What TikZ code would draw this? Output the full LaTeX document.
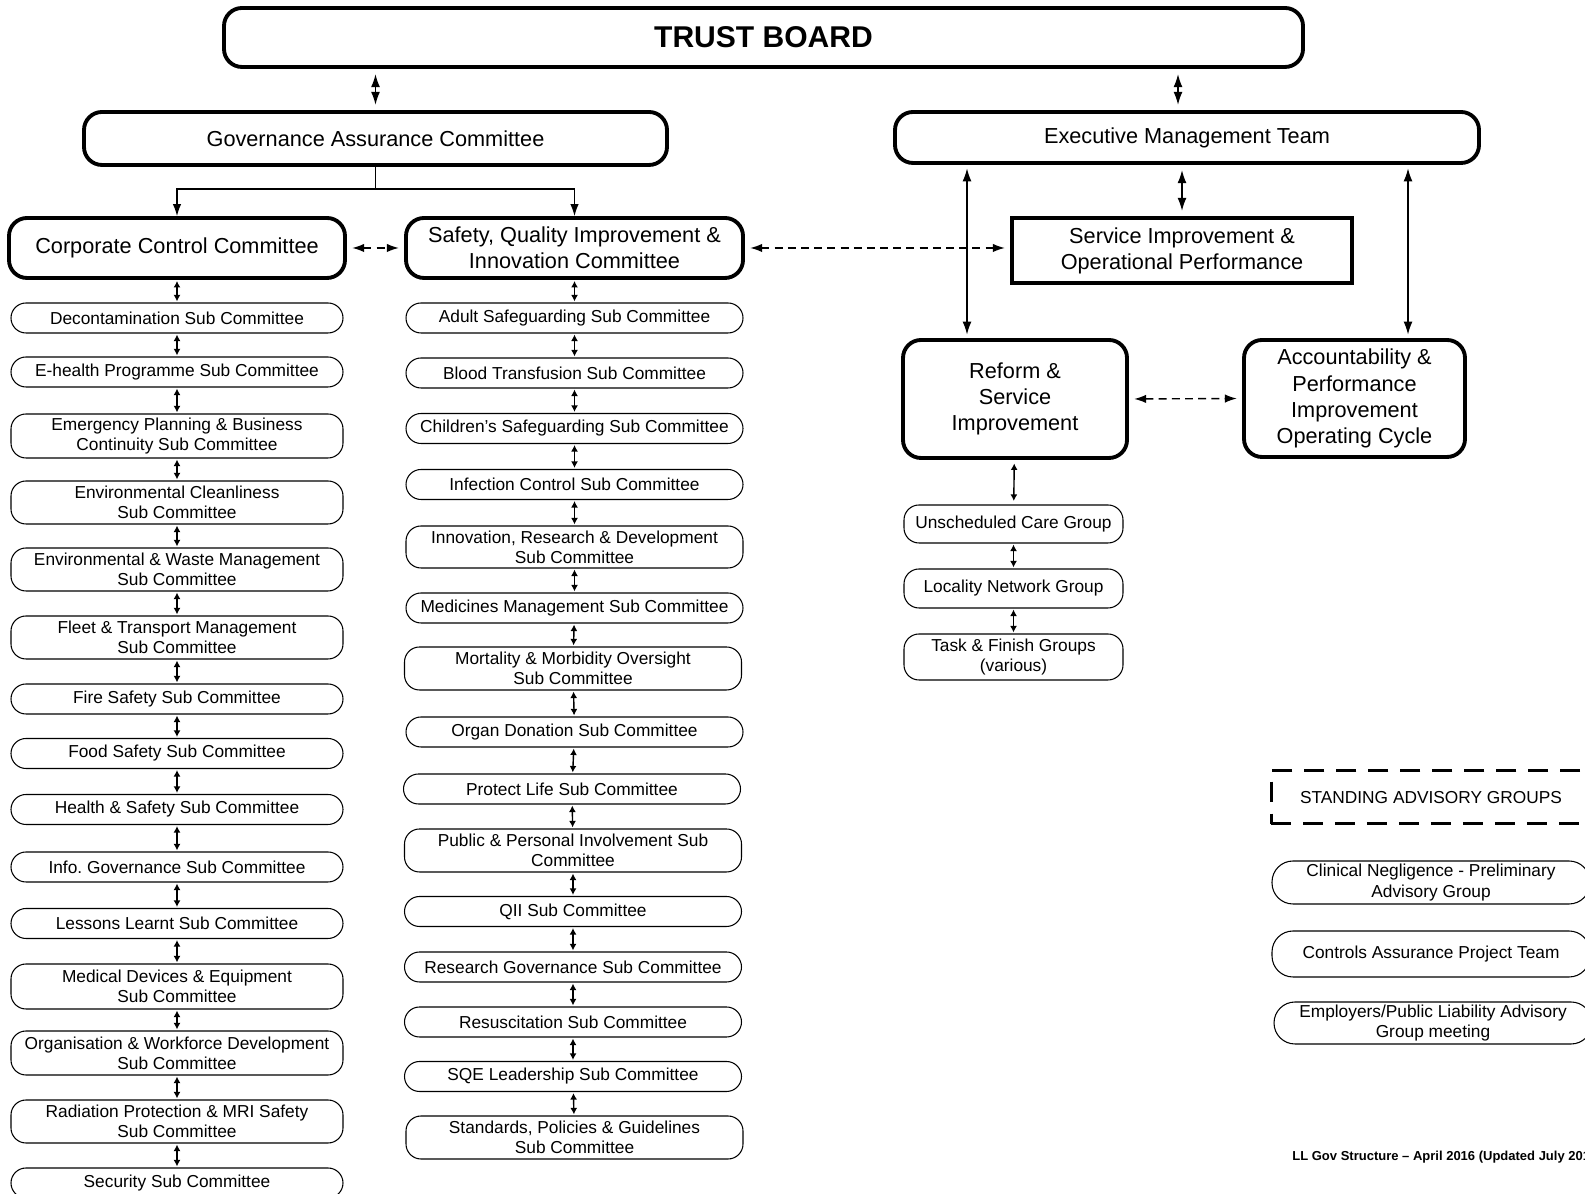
\documentclass[tikz,border=0pt]{standalone}
\usepackage{fontspec}
\setmainfont{Liberation Sans}
\usepackage{tikz}
\usetikzlibrary{arrows.meta, positioning}

\begin{document}
\begin{tikzpicture}[
    board/.style={draw, rounded corners=0.36cm, line width=2.2pt, align=center, inner sep=2pt, font=\fontsize{12.35}{14.9}\selectfont},
    opbox/.style={draw, line width=2.2pt, align=center, inner sep=2pt, font=\fontsize{12.35}{14.9}\selectfont},
    subcom/.style={draw, rounded corners=0.3cm, line width=0.6pt, minimum width=6.64cm, minimum height=0.6cm, inner sep=1pt, align=center, font=\fontsize{9.85}{11.5}\selectfont},
    group/.style={draw, rounded corners=0.3cm, line width=0.6pt, minimum width=4.38cm, inner sep=1pt, align=center, font=\fontsize{9.85}{11.5}\selectfont},
    advisory/.style={draw, rounded corners=0.42cm, line width=0.6pt, minimum width=6.36cm, inner sep=1pt, align=center, font=\fontsize{9.85}{11.6}\selectfont},
    arrow/.style={{Latex[length=2.6mm,width=1.8mm]}-{Latex[length=2.6mm,width=1.8mm]}, line width=0.7pt, shorten <=3pt, shorten >=3pt},
    link/.style={{Latex[length=1.3mm,width=1.4mm]}-{Latex[length=1.3mm,width=1.4mm]}, line width=0.8pt, shorten <=0.6pt, shorten >=0.6pt},
    branch/.style={-{Latex[length=2.4mm,width=1.7mm]}, line width=0.7pt},
    dasharrow/.style={{Latex[length=2.4mm,width=1.7mm]}-{Latex[length=2.4mm,width=1.7mm]}, dash pattern=on 4.5pt off 3pt, line width=0.8pt, shorten <=3pt, shorten >=3pt}
]
    \useasboundingbox (0,0) rectangle (31.7,23.88);

    % Board and top committees
    \node[board, minimum width=21.58cm, minimum height=1.18cm, font=\fontsize{17.1}{20}\selectfont\bfseries] (trust) at (15.27,23.13) {TRUST BOARD};
    \node[board, minimum width=11.66cm, minimum height=1.06cm] (gac) at (7.51,21.11) {Governance Assurance Committee};
    \node[board, minimum width=11.68cm, minimum height=1.02cm] (emt) at (23.74,21.13) {Executive Management Team};

    \node[board, minimum width=6.72cm, minimum height=1.2cm] (ccc) at (3.54,18.92) {Corporate Control Committee};
    \node[board, minimum width=6.74cm, minimum height=1.2cm] (sqii) at (11.49,18.92) {Safety, Quality Improvement \&\\Innovation Committee};
    \node[opbox, minimum width=6.8cm, minimum height=1.3cm] (siop) at (23.64,18.87) {Service Improvement \&\\Operational Performance};

    \node[board, minimum width=4.48cm, minimum height=2.36cm] (reform) at (20.30,15.90) {Reform \&\\Service\\Improvement};
    \node[board, minimum width=4.42cm, minimum height=2.34cm] (acc) at (27.09,15.91) {Accountability \&\\Performance\\Improvement\\Operating Cycle};

    % Groups under Reform
    \node[group, minimum height=0.76cm] (ucg) at (20.27,13.40) {Unscheduled Care Group};
    \node[group, minimum height=0.78cm] (lng) at (20.27,12.11) {Locality Network Group};
    \node[group, minimum height=0.92cm] (tfg) at (20.27,10.74) {Task \& Finish Groups\\(various)};

    % Corporate Control sub committees
    \node[subcom] (lc1) at (3.54,17.52) {Decontamination Sub Committee};
    \node[subcom] (lc2) at (3.54,16.44) {E-health Programme Sub Committee};
    \node[subcom, minimum height=0.88cm] (lc3) at (3.54,15.16) {Emergency Planning \& Business\\Continuity Sub Committee};
    \node[subcom, minimum height=0.86cm] (lc4) at (3.54,13.83) {Environmental Cleanliness\\Sub Committee};
    \node[subcom, minimum height=0.86cm] (lc5) at (3.54,12.49) {Environmental \& Waste Management\\Sub Committee};
    \node[subcom, minimum height=0.86cm] (lc6) at (3.54,11.13) {Fleet \& Transport Management\\Sub Committee};
    \node[subcom] (lc7) at (3.54,9.90) {Fire Safety Sub Committee};
    \node[subcom] (lc8) at (3.54,8.81) {Food Safety Sub Committee};
    \node[subcom] (lc9) at (3.54,7.69) {Health \& Safety Sub Committee};
    \node[subcom] (lc10) at (3.54,6.54) {Info.\ Governance Sub Committee};
    \node[subcom] (lc11) at (3.54,5.41) {Lessons Learnt Sub Committee};
    \node[subcom, minimum height=0.9cm] (lc12) at (3.54,4.15) {Medical Devices \& Equipment\\Sub Committee};
    \node[subcom, minimum height=0.88cm] (lc13) at (3.54,2.82) {Organisation \& Workforce Development\\Sub Committee};
    \node[subcom, minimum height=0.86cm] (lc14) at (3.54,1.45) {Radiation Protection \& MRI Safety\\Sub Committee};
    \node[subcom] (lc15) at (3.54,0.22) {Security Sub Committee};

    % Safety, Quality Improvement sub committees
    \node[subcom, minimum width=6.74cm] (mc1) at (11.49,17.52) {Adult Safeguarding Sub Committee};
    \node[subcom, minimum width=6.74cm] (mc2) at (11.49,16.42) {Blood Transfusion Sub Committee};
    \node[subcom, minimum width=6.74cm] (mc3) at (11.49,15.31) {Children’s Safeguarding Sub Committee};
    \node[subcom, minimum width=6.74cm] (mc4) at (11.49,14.19) {Infection Control Sub Committee};
    \node[subcom, minimum width=6.74cm, minimum height=0.84cm] (mc5) at (11.49,12.94) {Innovation, Research \& Development\\Sub Committee};
    \node[subcom, minimum width=6.74cm] (mc6) at (11.49,11.72) {Medicines Management Sub Committee};
    \node[subcom, minimum width=6.74cm, minimum height=0.86cm] (mc7) at (11.46,10.51) {Mortality \& Morbidity Oversight\\Sub Committee};
    \node[subcom, minimum width=6.74cm] (mc8) at (11.49,9.24) {Organ Donation Sub Committee};
    \node[subcom, minimum width=6.74cm] (mc9) at (11.44,8.10) {Protect Life Sub Committee};
    \node[subcom, minimum width=6.74cm, minimum height=0.86cm] (mc10) at (11.46,6.87) {Public \& Personal Involvement Sub\\Committee};
    \node[subcom, minimum width=6.74cm] (mc11) at (11.46,5.65) {QII Sub Committee};
    \node[subcom, minimum width=6.74cm] (mc12) at (11.46,4.54) {Research Governance Sub Committee};
    \node[subcom, minimum width=6.74cm] (mc13) at (11.46,3.44) {Resuscitation Sub Committee};
    \node[subcom, minimum width=6.74cm] (mc14) at (11.46,2.35) {SQE Leadership Sub Committee};
    \node[subcom, minimum width=6.74cm, minimum height=0.86cm] (mc15) at (11.49,1.13) {Standards, Policies \& Guidelines\\Sub Committee};

    % Standing advisory groups
    \node[draw, line width=1.7pt, dash pattern=on 11.4pt off 6.8pt, minimum width=6.4cm, minimum height=1.06cm, font=\fontsize{9.85}{11.5}\selectfont] (sag) at (28.62,7.93) {STANDING ADVISORY GROUPS};
    \node[advisory, minimum height=0.86cm] (cng) at (28.62,6.23) {Clinical Negligence - Preliminary\\Advisory Group};
    \node[advisory, minimum height=0.92cm] (cap) at (28.62,4.80) {Controls Assurance Project Team};
    \node[advisory, minimum height=0.84cm] (epl) at (28.66,3.42) {Employers/Public Liability Advisory\\Group meeting};

    \node[anchor=west, inner sep=0pt, font=\fontsize{7.4}{9}\selectfont\bfseries] (note) at (25.84,0.73) {LL Gov Structure – April 2016 (Updated July 201};

    % Tap points
    \coordinate (split) at (7.51,20.10);
    \coordinate (etap) at (23.56,0);
    \coordinate (rtap) at (19.34,0);
    \coordinate (atap) at (28.16,0);

    % Connections
    \draw[arrow] (trust.south -| gac.north) -- (gac.north);
    \draw[arrow] (trust.south -| etap) -- (emt.north -| etap);
    \draw[line width=0.7pt] (gac.south) -- (split);
    \draw[branch] (split) -| (ccc.north);
    \draw[branch] (split) -| (sqii.north);
    \draw[dasharrow] (ccc.east) -- (sqii.west);
    \draw[dasharrow] (sqii.east) -- (sqii.east -| siop.west);
    \draw[arrow] (emt.south -| siop.north) -- (siop.north);
    \draw[arrow, shorten <=2pt, shorten >=2pt] (emt.south -| rtap) -- (reform.north -| rtap);
    \draw[arrow, shorten <=2pt, shorten >=2pt] (emt.south -| atap) -- (acc.north -| atap);
    \draw[dasharrow] (reform.east) -- (acc.west);
    \draw[link, shorten <=2pt, shorten >=2pt] (reform) -- (ucg);
    \draw[link] (ucg) -- (lng);
    \draw[link] (lng) -- (tfg);

    \draw[link] (ccc) -- (lc1);
    \draw[link] (lc1) -- (lc2);
    \draw[link] (lc2) -- (lc3);
    \draw[link] (lc3) -- (lc4);
    \draw[link] (lc4) -- (lc5);
    \draw[link] (lc5) -- (lc6);
    \draw[link] (lc6) -- (lc7);
    \draw[link] (lc7) -- (lc8);
    \draw[link] (lc8) -- (lc9);
    \draw[link] (lc9) -- (lc10);
    \draw[link] (lc10) -- (lc11);
    \draw[link] (lc11) -- (lc12);
    \draw[link] (lc12) -- (lc13);
    \draw[link] (lc13) -- (lc14);
    \draw[link] (lc14) -- (lc15);

    \draw[link] (sqii) -- (mc1);
    \draw[link] (mc1) -- (mc2);
    \draw[link] (mc2) -- (mc3);
    \draw[link] (mc3) -- (mc4);
    \draw[link] (mc4) -- (mc5);
    \draw[link] (mc5) -- (mc6);
    \draw[link] (mc6) -- (mc7);
    \draw[link] (mc7) -- (mc8);
    \draw[link] (mc8) -- (mc9);
    \draw[link] (mc9) -- (mc10);
    \draw[link] (mc10) -- (mc11);
    \draw[link] (mc11) -- (mc12);
    \draw[link] (mc12) -- (mc13);
    \draw[link] (mc13) -- (mc14);
    \draw[link] (mc14) -- (mc15);
\end{tikzpicture}
\end{document}
